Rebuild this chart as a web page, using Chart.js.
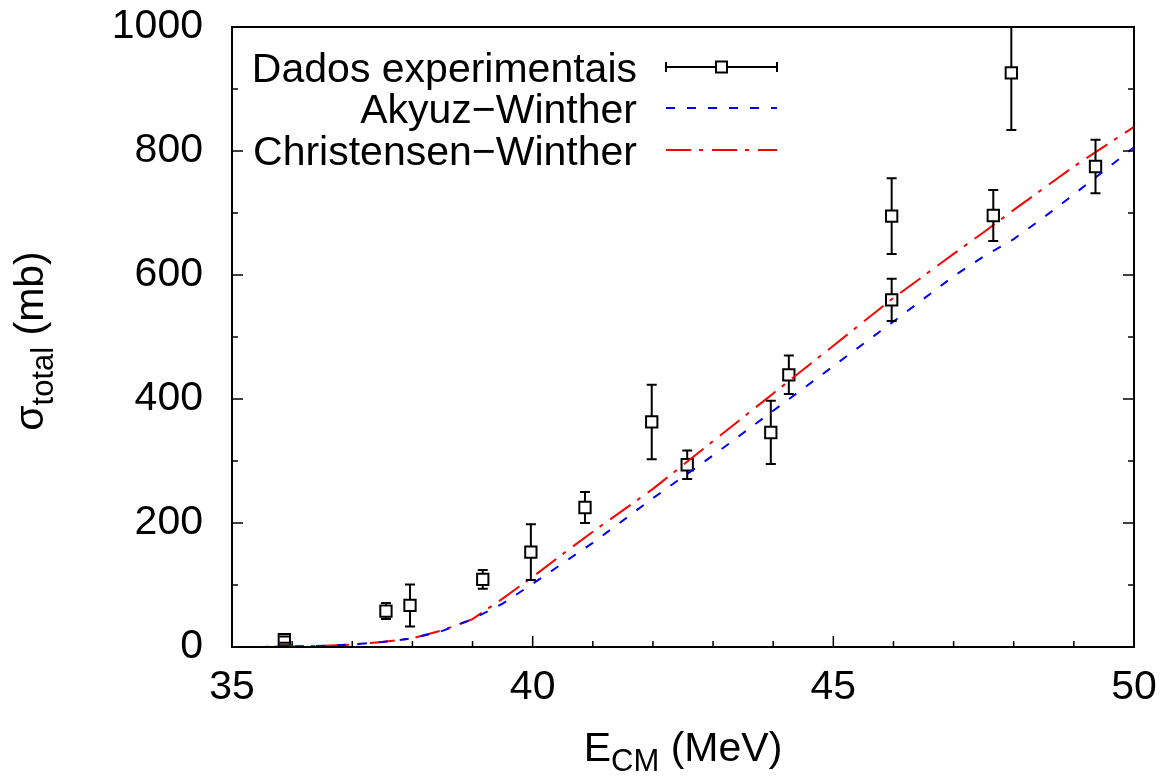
<!DOCTYPE html>
<html>
<head>
<meta charset="utf-8">
<script src="https://cdn.jsdelivr.net/npm/chart.js@4.4.1/dist/chart.umd.min.js"></script>
<style>
    body { margin: 0; background: #fff; }
    #wrap { position: relative; width: 1175px; height: 778px; }
</style>
</head>
<body>
<div id="wrap"><canvas id="sigmaChart"></canvas></div>
<script>
// dados experimentais (E_CM em MeV, sigma em mb, erro em mb)
const expEnergy = [35.87, 37.56, 37.96, 39.17, 39.97, 40.87, 41.98, 42.57, 43.96, 44.26, 45.97, 45.97, 47.66, 47.96, 49.36];
const expSigma  = [12, 58, 67, 109, 153, 225, 363, 294, 346, 439, 560, 695, 696, 926, 775];
const expError  = [5, 13, 34, 15, 45, 25, 60, 23, 51, 31, 34, 61, 41, 92, 43];

// curvas teoricas
const curveEnergy = [35, 35.5, 36, 36.5, 37, 37.5, 38, 38.5, 39, 39.5, 40, 40.5, 41, 42, 43, 44, 45, 46, 47, 47.5, 48, 48.5, 49, 50];
const akyuzWinther = [0, 0.2, 0.7, 2, 4, 8, 14, 26, 45, 70, 102, 135, 168, 240, 309, 381, 453, 525, 598, 630, 658, 693, 730, 806];
const christensenWinther = [0, 0.2, 0.7, 2, 4, 8, 14, 27, 45, 78, 113, 150, 186, 255, 332, 409, 486, 563, 634, 669, 705, 740, 775, 839];

// eixos
const xTicks = [35, 40, 45, 50];
const yTicks = [0, 200, 400, 600, 800, 1000];

const legendLabels = ['Dados experimentais', 'Akyuz\u2212Winther', 'Christensen\u2212Winther'];

const FONT = 'Liberation Sans, Arial, Helvetica, sans-serif';
const FS = 41;

Chart.defaults.font.family = FONT;
Chart.defaults.color = '#000';

const toPoints = (xs, ys) => xs.map((x, i) => ({ x: x, y: ys[i] }));

// barras de erro + moldura + ticks para dentro
const framePlugin = {
    id: 'frame',
    afterDatasetsDraw(chart) {
        const ctx = chart.ctx;
        const area = chart.chartArea;
        const xs = chart.scales.x;
        const ys = chart.scales.y;
        const half = 8 * Math.SQRT1_2;

        ctx.save();
        ctx.beginPath();
        ctx.rect(area.left, area.top, area.right - area.left, area.bottom - area.top);
        ctx.clip();
        ctx.strokeStyle = '#000';
        ctx.lineWidth = 2;
        expEnergy.forEach((e, i) => {
            const px = xs.getPixelForValue(e);
            const py = ys.getPixelForValue(expSigma[i]);
            const top = ys.getPixelForValue(expSigma[i] + expError[i]);
            const bot = ys.getPixelForValue(expSigma[i] - expError[i]);
            ctx.beginPath();
            if (top < py - half) { ctx.moveTo(px, top); ctx.lineTo(px, py - half); }
            if (bot > py + half) { ctx.moveTo(px, py + half); ctx.lineTo(px, bot); }
            ctx.moveTo(px - 5, top); ctx.lineTo(px + 5, top);
            ctx.moveTo(px - 5, bot); ctx.lineTo(px + 5, bot);
            ctx.stroke();
        });
        ctx.restore();

        // ticks
        ctx.save();
        ctx.strokeStyle = '#000';
        ctx.lineWidth = 1.5;
        ctx.beginPath();
        for (let v = xs.min; v <= xs.max; v += 1) {
            const px = xs.getPixelForValue(v);
            const len = (v % 5 === 0) ? 11 : 6;
            ctx.moveTo(px, area.bottom); ctx.lineTo(px, area.bottom - len);
        }
        for (let v = ys.min; v <= ys.max; v += 100) {
            const py = ys.getPixelForValue(v);
            const len = (v % 200 === 0) ? 11 : 6;
            ctx.moveTo(area.left, py); ctx.lineTo(area.left + len, py);
            ctx.moveTo(area.right, py); ctx.lineTo(area.right - len, py);
        }
        ctx.stroke();

        // moldura
        ctx.lineWidth = 2;
        ctx.strokeRect(area.left, area.top, area.right - area.left, area.bottom - area.top);
        ctx.restore();
    },
    afterDraw(chart) {
        const ctx = chart.ctx;
        const area = chart.chartArea;

        // legenda
        const textRight = 637, sx0 = 666, sx1 = 777;
        const rows = [67, 108, 150];
        ctx.save();
        ctx.font = FS + 'px ' + FONT;
        ctx.fillStyle = '#000';
        ctx.textAlign = 'right';
        ctx.textBaseline = 'alphabetic';
        legendLabels.forEach((t, i) => ctx.fillText(t, textRight, rows[i] + 0.36 * FS));

        ctx.strokeStyle = '#000';
        ctx.lineWidth = 2;
        ctx.beginPath();
        ctx.moveTo(sx0, rows[0]); ctx.lineTo(sx1, rows[0]);
        ctx.moveTo(sx0, rows[0] - 5); ctx.lineTo(sx0, rows[0] + 5);
        ctx.moveTo(sx1, rows[0] - 5); ctx.lineTo(sx1, rows[0] + 5);
        ctx.stroke();
        const mid = (sx0 + sx1) / 2;
        ctx.fillStyle = '#fff';
        ctx.fillRect(mid - 5.5, rows[0] - 5.5, 11, 11);
        ctx.strokeRect(mid - 5.5, rows[0] - 5.5, 11, 11);

        ctx.strokeStyle = '#0000ff';
        ctx.setLineDash([9, 12]);
        ctx.beginPath(); ctx.moveTo(sx0, rows[1]); ctx.lineTo(sx1, rows[1]); ctx.stroke();
        ctx.strokeStyle = '#ff0000';
        ctx.setLineDash([25, 8, 4, 9]);
        ctx.beginPath(); ctx.moveTo(sx0, rows[2]); ctx.lineTo(sx1, rows[2]); ctx.stroke();
        ctx.setLineDash([]);
        ctx.restore();

        // titulos dos eixos com subscrito
        const drawRich = (parts, x, y) => {
            let cx = x;
            parts.forEach(p => {
                ctx.font = p.size + 'px ' + FONT;
                ctx.fillText(p.t, cx, y + p.dy);
                cx += ctx.measureText(p.t).width;
            });
        };
        const richWidth = parts => parts.reduce((w, p) => {
            ctx.font = p.size + 'px ' + FONT;
            return w + ctx.measureText(p.t).width;
        }, 0);

        ctx.save();
        ctx.fillStyle = '#000';
        ctx.textAlign = 'left';
        ctx.textBaseline = 'alphabetic';
        const xTitle = [{ t: 'E', size: FS, dy: 0 }, { t: 'CM', size: 31, dy: 10 }, { t: ' (MeV)', size: FS, dy: 0 }];
        const cxMid = (area.left + area.right) / 2;
        drawRich(xTitle, cxMid - richWidth(xTitle) / 2, 761);

        const yTitle = [{ t: '\u03c3', size: FS, dy: 0 }, { t: 'total', size: 31, dy: 10 }, { t: ' (mb)', size: FS, dy: 0 }];
        ctx.translate(43, 341);
        ctx.rotate(-Math.PI / 2);
        drawRich(yTitle, -richWidth(yTitle) / 2, 0);
        ctx.restore();
    }
};

new Chart(document.getElementById('sigmaChart'), {
    type: 'scatter',
    data: {
        datasets: [
            {
                label: legendLabels[1],
                data: toPoints(curveEnergy, akyuzWinther),
                showLine: true,
                borderColor: '#0000ff',
                borderWidth: 2,
                borderDash: [9, 12],
                pointRadius: 0,
                tension: 0
            },
            {
                label: legendLabels[2],
                data: toPoints(curveEnergy, christensenWinther),
                showLine: true,
                borderColor: '#ff0000',
                borderWidth: 2,
                borderDash: [25, 8, 4, 9],
                pointRadius: 0,
                tension: 0
            },
            {
                label: legendLabels[0],
                data: toPoints(expEnergy, expSigma),
                showLine: false,
                pointStyle: 'rect',
                pointRadius: 8,
                pointBorderWidth: 2,
                borderColor: '#000',
                backgroundColor: 'rgba(0,0,0,0)'
            }
        ]
    },
    options: {
        responsive: true,
        maintainAspectRatio: false,
        animation: false,
        layout: { padding: { top: 27, right: 41, left: 0, bottom: 0 } },
        plugins: { legend: { display: false }, tooltip: { enabled: false } },
        scales: {
            x: {
                type: 'linear',
                min: 35, max: 50,
                afterBuildTicks: s => { s.ticks = xTicks.map(v => ({ value: v })); },
                afterFit: s => { s.height = 131; s.paddingLeft = 0; s.paddingRight = 0; },
                grid: { display: false, drawTicks: false },
                border: { display: false },
                ticks: { font: { size: FS }, padding: 16, maxRotation: 0, callback: v => String(v) }
            },
            y: {
                min: 0, max: 1000,
                afterBuildTicks: s => { s.ticks = yTicks.map(v => ({ value: v })); },
                afterFit: s => { s.width = 232; s.paddingTop = 0; s.paddingBottom = 0; },
                grid: { display: false, drawTicks: false },
                border: { display: false },
                ticks: { font: { size: FS }, padding: 29, callback: v => String(v) }
            }
        }
    },
    plugins: [framePlugin]
});
</script>
</body>
</html>
